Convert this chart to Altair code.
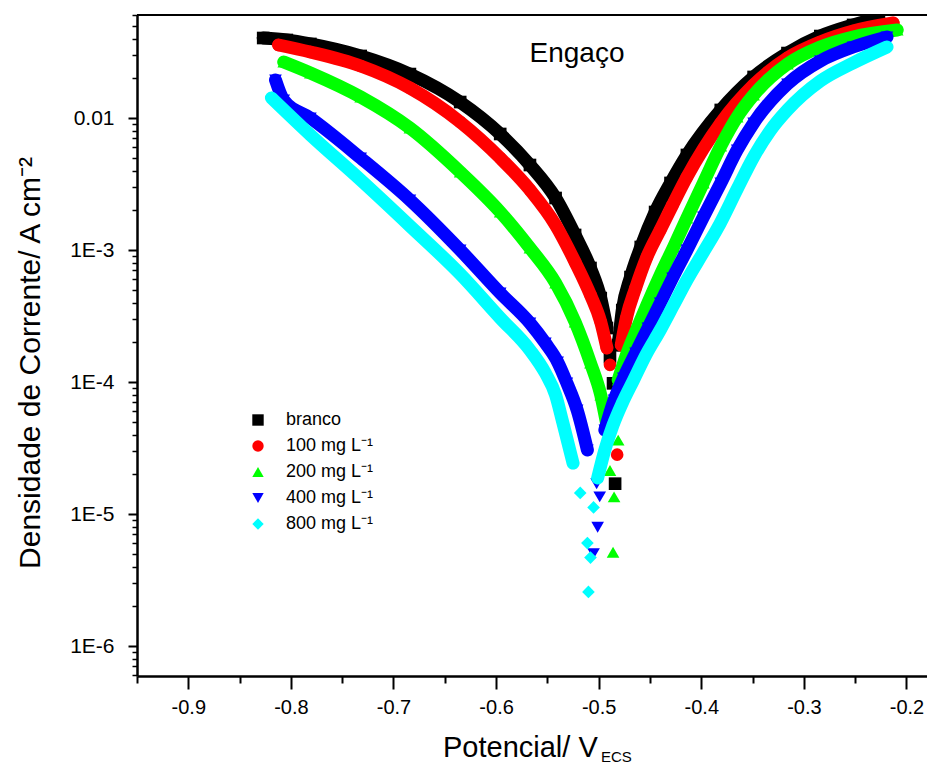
import altair as alt
import pandas as pd

FONT = "Liberation Sans"

series_labels = ["branco", "100 mg L⁻¹", "200 mg L⁻¹", "400 mg L⁻¹", "800 mg L⁻¹"]
series_colors = ["#000000", "#ff0000", "#00ff00", "#0000ff", "#00ffff"]
series_shapes = ["square", "circle", "triangle-up", "triangle-down", "diamond"]

# ---- branco (black) : potential (V) and log10(current density / A cm-2)
branco_cat_E = [-0.827, -0.804, -0.781, -0.732, -0.684, -0.635, -0.596, -0.567, -0.542, -0.523, -0.508, -0.498, -0.492]
branco_cat_L = [-1.394, -1.409, -1.439, -1.530, -1.667, -1.879, -2.121, -2.356, -2.606, -2.886, -3.136, -3.364, -3.591]
branco_ec_E = [-0.489, -0.486, -0.484]
branco_ec_L = [-3.81, -4.01, -4.77]
branco_an_E = [-0.481, -0.477, -0.469, -0.459, -0.445, -0.430, -0.414, -0.381, -0.349, -0.316, -0.284, -0.252, -0.227]
branco_an_L = [-3.720, -3.455, -3.205, -2.977, -2.712, -2.492, -2.280, -1.939, -1.689, -1.508, -1.379, -1.295, -1.242]

# ---- 100 mg/L (red)
c100_cat_E = [-0.812, -0.781, -0.732, -0.684, -0.635, -0.596, -0.567, -0.542, -0.523, -0.508, -0.498, -0.492]
c100_cat_L = [-1.447, -1.500, -1.606, -1.773, -2.030, -2.303, -2.545, -2.811, -3.091, -3.341, -3.545, -3.742]
c100_ec_E = [-0.489, -0.482]
c100_ec_L = [-3.87, -4.55]
c100_an_E = [-0.478, -0.473, -0.464, -0.453, -0.440, -0.428, -0.414, -0.381, -0.349, -0.316, -0.284, -0.252, -0.213]
c100_an_L = [-3.720, -3.515, -3.288, -3.053, -2.848, -2.659, -2.447, -2.038, -1.750, -1.545, -1.424, -1.341, -1.280]

# ---- 200 mg/L (green)
c200_cat_E = [-0.807, -0.781, -0.732, -0.684, -0.635, -0.596, -0.567, -0.542, -0.523, -0.508, -0.498, -0.492]
c200_cat_L = [-1.576, -1.659, -1.841, -2.076, -2.409, -2.712, -2.985, -3.250, -3.545, -3.856, -4.098, -4.326]
c200_ec_E = [-0.489, -0.486, -0.485, -0.481]
c200_ec_L = [-4.67, -5.29, -4.87, -4.44]
c200_an_E = [-0.481, -0.473, -0.464, -0.453, -0.440, -0.427, -0.414, -0.398, -0.381, -0.365, -0.349, -0.316, -0.284, -0.252, -0.209]
c200_an_L = [-3.985, -3.795, -3.621, -3.417, -3.189, -2.977, -2.758, -2.492, -2.212, -1.992, -1.826, -1.591, -1.462, -1.386, -1.333]

# ---- 400 mg/L (blue)
c400_cat_E = [-0.815, -0.807, -0.781, -0.732, -0.684, -0.635, -0.596, -0.567, -0.552, -0.540, -0.531, -0.521, -0.511]
c400_cat_L = [-1.712, -1.864, -2.000, -2.303, -2.621, -3.000, -3.326, -3.553, -3.705, -3.848, -4.008, -4.212, -4.515]
c400_ec_E = [-0.502, -0.499, -0.501, -0.505]
c400_ec_L = [-4.77, -4.87, -5.10, -5.30]
c400_an_E = [-0.494, -0.485, -0.476, -0.464, -0.452, -0.440, -0.428, -0.414, -0.398, -0.381, -0.365, -0.349, -0.316, -0.284, -0.252, -0.219]
c400_an_L = [-4.364, -4.136, -3.970, -3.780, -3.591, -3.402, -3.212, -3.000, -2.750, -2.492, -2.242, -2.038, -1.742, -1.568, -1.462, -1.386]

# ---- 800 mg/L (cyan)
c800_cat_E = [-0.819, -0.781, -0.732, -0.684, -0.635, -0.596, -0.567, -0.552, -0.542, -0.535, -0.525]
c800_cat_L = [-1.848, -2.129, -2.470, -2.818, -3.182, -3.515, -3.758, -3.932, -4.098, -4.306, -4.614]
c800_ec_E = [-0.518, -0.511, -0.508, -0.510, -0.505]
c800_ec_L = [-4.84, -5.22, -5.33, -5.59, -4.95]
c800_an_E = [-0.501, -0.494, -0.486, -0.477, -0.466, -0.454, -0.440, -0.427, -0.414, -0.399, -0.384, -0.365, -0.349, -0.333, -0.316, -0.284, -0.252, -0.219]
c800_an_L = [-4.727, -4.515, -4.326, -4.159, -3.985, -3.795, -3.606, -3.417, -3.227, -3.030, -2.833, -2.538, -2.295, -2.098, -1.939, -1.720, -1.583, -1.462]

x_major = [-0.9, -0.8, -0.7, -0.6, -0.5, -0.4, -0.3, -0.2]
x_minor = [-0.95, -0.85, -0.75, -0.65, -0.55, -0.45, -0.35, -0.25]
y_major = [1e-6, 1e-5, 1e-4, 1e-3, 1e-2]
Y_MIN, Y_MAX = 5.93e-7, 0.0603
y_minor = [m * 10.0 ** e for e in range(-7, -1) for m in range(2, 10)
           if Y_MIN <= m * 10.0 ** e <= Y_MAX]

curves = [
    (series_labels[0], [("cat", branco_cat_E, branco_cat_L), ("ecorr", branco_ec_E, branco_ec_L), ("ano", branco_an_E, branco_an_L)]),
    (series_labels[1], [("cat", c100_cat_E, c100_cat_L), ("ecorr", c100_ec_E, c100_ec_L), ("ano", c100_an_E, c100_an_L)]),
    (series_labels[2], [("cat", c200_cat_E, c200_cat_L), ("ecorr", c200_ec_E, c200_ec_L), ("ano", c200_an_E, c200_an_L)]),
    (series_labels[3], [("cat", c400_cat_E, c400_cat_L), ("ecorr", c400_ec_E, c400_ec_L), ("ano", c400_an_E, c400_an_L)]),
    (series_labels[4], [("cat", c800_cat_E, c800_cat_L), ("ecorr", c800_ec_E, c800_ec_L), ("ano", c800_an_E, c800_an_L)]),
]

rows = []
for s, parts in curves:
    for ramo, E, L in parts:
        for k, (e, l) in enumerate(zip(E, L)):
            rows.append({"serie": s, "ramo": ramo, "grupo": s + "|" + ramo,
                         "ordem": k, "E": e, "i": 10.0 ** l})
df = pd.DataFrame(rows)

W, H = 790, 661

xs = alt.Scale(domain=[-0.95, -0.18], nice=False, zero=False)
ys = alt.Scale(type="log", domain=[Y_MIN, Y_MAX], nice=False)
cs = alt.Scale(domain=series_labels, range=series_colors)
ss = alt.Scale(domain=series_labels, range=series_shapes)

major_x = alt.Axis(orient="bottom", values=x_major, title=None, grid=False,
                   labelExpr="'-' + format(abs(datum.value), '.1f')",
                   tickSize=13, tickWidth=2, domainWidth=2.5, domainColor="black",
                   tickColor="black", labelFontSize=20, labelFont=FONT, labelColor="black",
                   labelPadding=8, labelFlush=False, labelOverlap=False)
minor_x = alt.Axis(orient="bottom", values=x_minor, labels=False, domain=False, title=None,
                   grid=False, tickSize=7, tickWidth=2, tickColor="black")
major_y = alt.Axis(orient="left", values=y_major, title=None, grid=False,
                   labelExpr="datum.value > 0.005 ? '0.01' : '1E' + round(log(datum.value) / LN10)",
                   tickSize=9, tickWidth=2, domainWidth=2.5, domainColor="black",
                   tickColor="black", labelFontSize=21, labelFont=FONT, labelColor="black",
                   labelPadding=14, labelFlush=False, labelOverlap=False)
minor_y = alt.Axis(orient="left", values=y_minor, labels=False, domain=False, title=None,
                   grid=False, tickSize=5, tickWidth=1.5, tickColor="black")

leg = alt.Legend(title=None, orient="none", legendX=112, legendY=396, symbolSize=130,
                 symbolOpacity=1, labelFontSize=18, labelFont=FONT, labelColor="black",
                 labelOffset=19, rowPadding=8, padding=0, symbolStrokeWidth=0)

layers = []
for n, s in enumerate(series_labels):
    sub = df[df["serie"] == s]
    line = alt.Chart(sub[sub["ramo"] != "ecorr"]).mark_line(
        strokeWidth=13, clip=True, strokeJoin="round", strokeCap="round",
        color=series_colors[n], interpolate="monotone"
    ).encode(
        x=alt.X("E:Q", scale=xs, axis=minor_x if n == 0 else None),
        y=alt.Y("i:Q", scale=ys, axis=minor_y if n == 0 else None),
        detail="grupo:N",
        order="ordem:Q",
    )
    pts = alt.Chart(sub).mark_point(
        filled=True, size=160, opacity=1, clip=True,
        color=series_colors[n], shape=series_shapes[n]
    ).encode(
        x=alt.X("E:Q", scale=xs, axis=major_x if n == 0 else None),
        y=alt.Y("i:Q", scale=ys, axis=major_y if n == 0 else None),
    )
    layers += [line, pts]

# invisible layer that only carries the legend
legend_layer = alt.Chart(df).mark_point(filled=True, opacity=0, size=130).encode(
    x=alt.X("E:Q", scale=xs, axis=None),
    y=alt.Y("i:Q", scale=ys, axis=None),
    color=alt.Color("serie:N", scale=cs, legend=leg),
    shape=alt.Shape("serie:N", scale=ss, legend=leg),
)

one = pd.DataFrame({"k": [0]})
top_rule = alt.Chart(one).mark_rule(color="black", strokeWidth=2).encode(
    x=alt.value(0), x2=alt.value(W), y=alt.value(0))
t_eng = alt.Chart(one).mark_text(text="Engaço", font=FONT, fontSize=28, color="black",
                                  align="center", baseline="alphabetic").encode(
    x=alt.value(440), y=alt.value(47))
t_y = alt.Chart(one).mark_text(text="Densidade de Corrente/ A cm⁻²", font=FONT, fontSize=30,
                               color="black", angle=270, align="center", baseline="middle").encode(
    x=alt.value(-106), y=alt.value(348))
t_x = alt.Chart(one).mark_text(text="Potencial/ V", font=FONT, fontSize=29, color="black",
                               align="left", baseline="alphabetic").encode(
    x=alt.value(306), y=alt.value(742))
t_ecs = alt.Chart(one).mark_text(text="ECS", font=FONT, fontSize=15, color="black",
                                 align="left", baseline="alphabetic").encode(
    x=alt.value(464), y=alt.value(747))

chart = alt.layer(*layers, legend_layer, top_rule, t_eng, t_y, t_x, t_ecs).resolve_axis(
    x="independent", y="independent"
).properties(
    width=W, height=H,
    padding={"left": 129, "top": 7, "right": 0, "bottom": 92},
    autosize=alt.AutoSizeParams(type="none"),
).configure_view(stroke=None).configure(font=FONT)

chart.save("out.html", embed_options={"renderer": "svg", "actions": False})
